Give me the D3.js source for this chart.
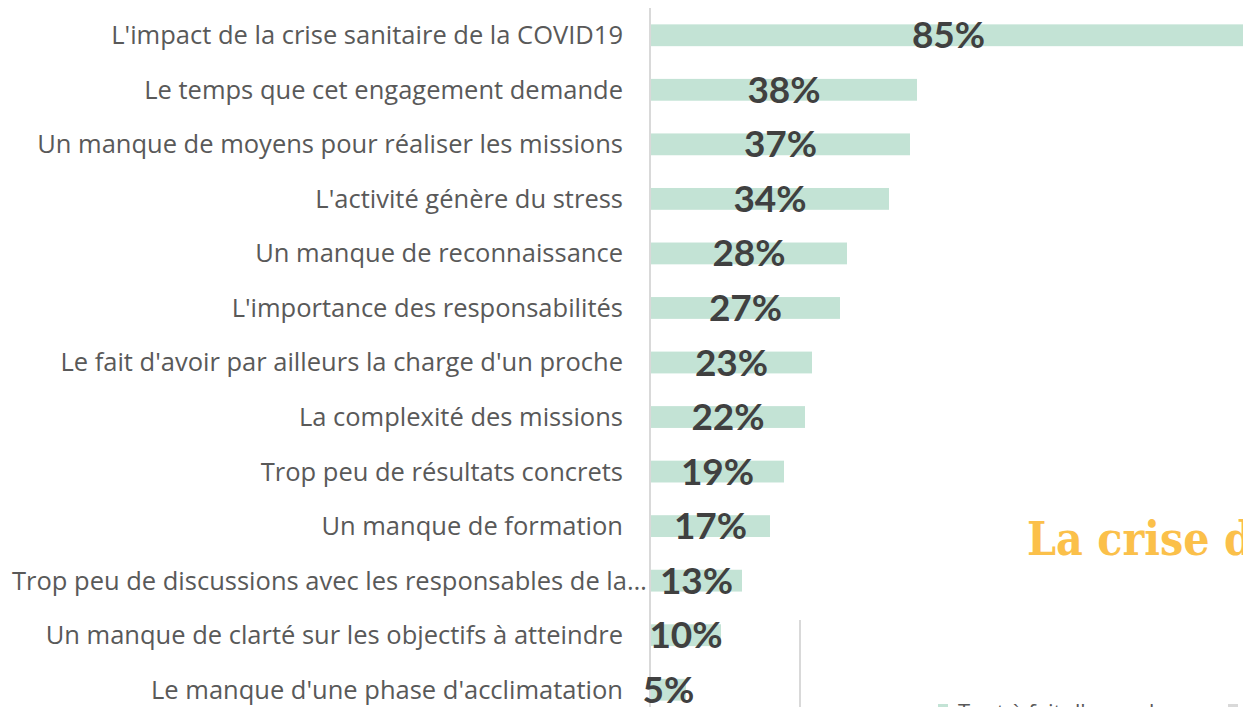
<!DOCTYPE html>
<html><head><meta charset="utf-8">
<script src="https://cdn.jsdelivr.net/npm/d3@7/dist/d3.min.js"></script>
<style>html,body{margin:0;padding:0;background:#fff;overflow:hidden}svg{display:block}</style>
</head><body>
<script>
const categories = [
  "L'impact de la crise sanitaire de la COVID19",
  "Le temps que cet engagement demande",
  "Un manque de moyens pour réaliser les missions",
  "L'activité génère du stress",
  "Un manque de reconnaissance",
  "L'importance des responsabilités",
  "Le fait d'avoir par ailleurs la charge d'un proche",
  "La complexité des missions",
  "Trop peu de résultats concrets",
  "Un manque de formation",
  "Trop peu de discussions avec les responsables de la…",
  "Un manque de clarté sur les objectifs à atteindre",
  "Le manque d'une phase d'acclimatation"
];
const values = [85, 38, 37, 34, 28, 27, 23, 22, 19, 17, 13, 10, 5];
const overlayTitle = "La crise d";
const legendItems = ["Tout à fait d'accord", "Plutôt d'accord"];

const W = 1243, H = 707;
const svg = d3.select("body").append("svg").attr("width", W).attr("height", H);

const x = d3.scaleLinear().domain([0, 85]).range([651, 1246]);
const y = d3.scaleBand().domain(categories).range([8, 717]).paddingInner(0.6).paddingOuter(0.3);

// bars
svg.append("g").selectAll("rect").data(values).join("rect")
  .attr("x", x(0))
  .attr("y", (d, i) => y(categories[i]))
  .attr("width", d => x(d) - x(0))
  .attr("height", y.bandwidth())
  .attr("fill", "#c3e3d5");

// axis
const axis = svg.append("g").attr("transform", `translate(${x(0) - 1},0)`)
  .call(d3.axisLeft(y).tickSize(0).tickPadding(27));
axis.select(".domain").attr("stroke", "#d9d9d9").attr("stroke-width", 2)
  .attr("d", `M0,8V${H}`);
const lbl = axis.selectAll("text")
  .attr("font-family", "'Open Sans', sans-serif")
  .attr("font-size", 22)
  .attr("fill", "#595959")
  .attr("dy", "0.35em");
// fit font size so the first label spans ~512px like the reference
const w0 = lbl.nodes()[0].getComputedTextLength();
lbl.attr("font-size", 22 * 512 / w0);
// the truncated long label spills to the right in the reference and starts near x=12
lbl.filter(d => d.endsWith("…")).each(function () {
  const el = d3.select(this);
  const w = this.getComputedTextLength();
  const endX = 12 + w;                       // absolute end
  el.attr("x", -(x(0) - 1) + endX);
});

// value labels
svg.append("g").selectAll("text").data(values).join("text")
  .attr("x", d => (x(0) + x(d)) / 2)
  .attr("y", (d, i) => y(categories[i]) + y.bandwidth() / 2 + 13)
  .attr("text-anchor", "middle")
  .attr("font-family", "Lato, sans-serif")
  .attr("font-weight", "bold")
  .attr("font-size", 37)
  .attr("fill", "#404040")
  .text(d => d + "%");

// overlapping elements from neighbouring slide content
svg.append("line").attr("x1", 800).attr("x2", 800).attr("y1", 620).attr("y2", H)
  .attr("stroke", "#d9d9d9").attr("stroke-width", 2);
svg.append("text").attr("x", 1027).attr("y", 555)
  .attr("font-family", "'DejaVu Serif Condensed', 'DejaVu Serif', serif").attr("font-weight", "bold")
  .attr("font-size", 46).attr("fill", "#fbc04a").text(overlayTitle);
const lg = svg.append("g");
lg.append("rect").attr("x", 938).attr("y", 704).attr("width", 10).attr("height", 10).attr("fill", "#c3e3d5");
lg.append("text").attr("x", 958).attr("y", 720).attr("font-family", "'Open Sans', sans-serif")
  .attr("font-size", 22).attr("fill", "#595959").text(legendItems[0]);
lg.append("rect").attr("x", 1228).attr("y", 704).attr("width", 10).attr("height", 10).attr("fill", "#d9d9d9");
</script>
</body></html>
